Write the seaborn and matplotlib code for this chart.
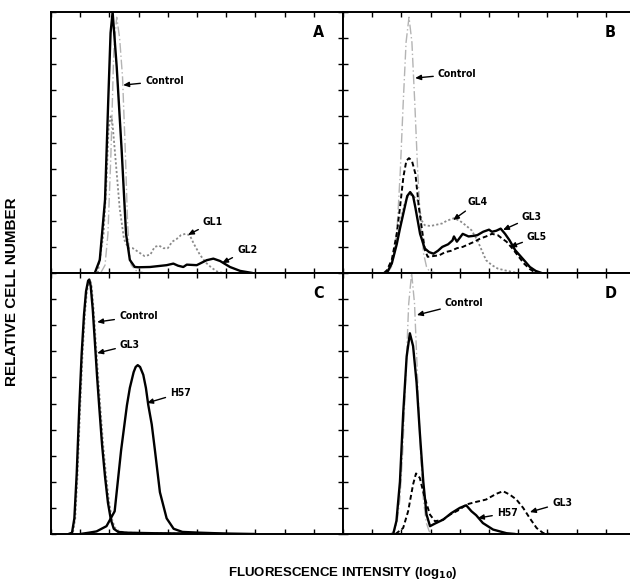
import matplotlib
matplotlib.use("Agg")
import matplotlib.pyplot as plt
import seaborn as sns
from matplotlib import font_manager

sns.set_theme(style="white")
fl = font_manager.fontManager.ttflist
names = {f.name for f in fl}
narrow = [f for f in fl if ("Narrow" in f.name or "Condensed" in f.name
                            or f.stretch in ("condensed", "semi-condensed", "extra-condensed"))]
if "Liberation Sans Narrow" in names:
    LBL = dict(family=["Liberation Sans Narrow", "DejaVu Sans"])
elif any(f.name == "DejaVu Sans" and f.stretch == "condensed" for f in fl):
    LBL = dict(family=["DejaVu Sans"], fontstretch="condensed")
elif narrow:
    LBL = dict(family=[narrow[0].name, "DejaVu Sans"], fontstretch=narrow[0].stretch)
else:
    LBL = dict(family=["Roboto", "DejaVu Sans"])
AX_FONT = "Liberation Sans" if "Liberation Sans" in names else "DejaVu Sans"
plt.rcParams['font.family'] = [AX_FONT, 'DejaVu Sans']
plt.rcParams['text.color'] = 'black'

# ---------------- data (x in log-decade tick units 0-10, y in tick units 0-10) ----------------
# Panel A
A_ctrl_x = [1.7, 1.85, 1.95, 2.05, 2.15, 2.25, 2.35, 2.45, 2.55, 2.62, 2.68, 2.75, 2.9, 3.2]
A_ctrl_y = [0, 0.3, 1.5, 4.5, 8.5, 9.8, 9.0, 7.5, 4.5, 2.0, 0.8, 0.3, 0.1, 0]
A_gl1_x = [1.6, 1.8, 1.9, 1.97, 2.04, 2.1, 2.2, 2.35, 2.5, 2.65, 2.8, 3.0, 3.2, 3.4, 3.55, 3.7, 3.85,
           4.0, 4.15, 4.3, 4.45, 4.6, 4.75, 4.9, 5.1, 5.3, 5.5, 5.7, 5.9]
A_gl1_y = [0, 1.5, 3.5, 5.5, 6.0, 5.8, 4.5, 2.5, 1.3, 0.95, 0.95, 0.8, 0.65, 0.7, 1.0, 1.05, 0.95,
           0.95, 1.2, 1.3, 1.45, 1.5, 1.45, 1.1, 0.7, 0.4, 0.2, 0.05, 0]
A_gl2_x = [1.5, 1.67, 1.85, 1.96, 2.04, 2.11, 2.25, 2.42, 2.57, 2.7, 2.87, 3.0, 3.39, 3.96, 4.19, 4.35,
           4.53, 4.65, 4.99, 5.33, 5.56, 5.79, 6.13, 6.48, 6.9]
A_gl2_y = [0, 0.5, 2.8, 6.6, 9.2, 10.0, 7.9, 4.7, 1.5, 0.5, 0.23, 0.22, 0.23, 0.3, 0.36, 0.28,
           0.23, 0.32, 0.3, 0.49, 0.55, 0.46, 0.23, 0.08, 0]

# Panel B
B_ctrl_x = [1.46, 1.56, 1.66, 1.76, 1.86, 1.96, 2.06, 2.16, 2.26, 2.36, 2.46, 2.56, 2.66, 2.76, 2.86, 2.96, 3.2]
B_ctrl_y = [0, 0.06, 0.24, 0.74, 1.87, 3.85, 6.47, 8.84, 9.8, 8.84, 6.47, 3.85, 1.87, 0.74, 0.24, 0.06, 0]
B_gl4_x = [1.5, 1.67, 1.84, 1.97, 2.1, 2.2, 2.3, 2.4, 2.55, 2.7, 2.8, 3.0, 3.2, 3.4, 3.55, 3.8, 4.0,
           4.2, 4.4, 4.6, 4.75, 4.9, 5.1, 5.3, 5.55, 5.8, 6.0]
B_gl4_y = [0, 0.4, 1.26, 2.0, 2.6, 2.9, 3.0, 2.95, 2.8, 2.0, 1.83, 1.8, 1.85, 1.9, 2.0, 2.1, 2.0,
           1.83, 1.64, 1.26, 0.87, 0.49, 0.3, 0.17, 0.1, 0.04, 0]
B_gl5_x = [1.4, 1.5, 1.67, 1.84, 1.95, 2.07, 2.17, 2.26, 2.36, 2.48, 2.6, 2.7, 2.8, 2.9, 3.1, 3.3, 3.5,
           3.7, 3.9, 4.1, 4.3, 4.5, 4.7, 4.9, 5.1, 5.3, 5.45, 5.6, 5.8, 6.0, 6.2, 6.4, 6.55, 6.7]
B_gl5_y = [0, 0.1, 0.5, 1.5, 2.5, 3.7, 4.3, 4.4, 4.3, 3.8, 2.5, 1.7, 0.9, 0.62, 0.65, 0.68, 0.8,
           0.85, 0.95, 1.0, 1.1, 1.2, 1.32, 1.4, 1.5, 1.45, 1.32, 1.2, 0.94, 0.65, 0.36, 0.15, 0.04, 0]
B_gl3_x = [1.5, 1.67, 1.84, 1.95, 2.07, 2.2, 2.3, 2.4, 2.48, 2.64, 2.8, 2.95, 3.1, 3.25, 3.4, 3.6, 3.75,
           3.8, 3.9, 4.1, 4.3, 4.45, 4.6, 4.8, 5.0, 5.1, 5.25, 5.4, 5.55, 5.7, 5.9, 6.2, 6.4, 6.6, 6.8]
B_gl3_y = [0, 0.36, 1.1, 1.7, 2.3, 2.95, 3.1, 2.95, 2.5, 1.5, 0.94, 0.8, 0.74, 0.85, 1.0, 1.1, 1.25,
           1.4, 1.2, 1.5, 1.4, 1.42, 1.45, 1.58, 1.66, 1.58, 1.62, 1.7, 1.5, 1.26, 0.87, 0.49, 0.23, 0.08, 0]

# Panel C
C_ctrl_x = [0.6, 0.72, 0.8, 0.88, 0.97, 1.05, 1.13, 1.2, 1.27, 1.31, 1.36, 1.43, 1.5, 1.58, 1.65,
            1.75, 1.85, 1.95, 2.05, 2.15, 2.3, 2.6, 3.5, 4.5, 6.0]
C_ctrl_y = [0, 0.05, 0.6, 2.3, 4.9, 6.9, 8.4, 9.3, 9.7, 9.75, 9.5, 8.6, 7.4, 6.0, 4.9,
            3.4, 2.2, 1.2, 0.55, 0.2, 0.08, 0.05, 0.03, 0.02, 0]
C_gl3_x = [0.63, 0.75, 0.83, 0.91, 1.0, 1.08, 1.16, 1.23, 1.3, 1.34, 1.39, 1.46, 1.53, 1.61, 1.68,
           1.78, 1.88, 1.98, 2.08, 2.18, 2.33, 2.63, 3.5, 4.5, 6.0]
C_gl3_y = [0, 0.05, 0.6, 2.3, 4.9, 6.9, 8.4, 9.3, 9.7, 9.75, 9.5, 8.6, 7.4, 6.1, 5.0,
           3.5, 2.3, 1.3, 0.6, 0.25, 0.1, 0.05, 0.03, 0.02, 0]
C_h57_x = [1.0, 1.3, 1.56, 1.9, 2.18, 2.4, 2.6, 2.7, 2.83, 2.9, 2.97, 3.05, 3.16, 3.25, 3.33, 3.45,
           3.56, 3.73, 3.96, 4.2, 4.5, 5.1, 5.9, 7.0]
C_h57_y = [0, 0.05, 0.1, 0.3, 0.87, 3.2, 4.93, 5.6, 6.2, 6.4, 6.47, 6.4, 6.1, 5.6, 4.95, 4.2,
           3.2, 1.6, 0.6, 0.2, 0.08, 0.05, 0.02, 0]

# Panel D
D_ctrl_x = [1.55, 1.65, 1.75, 1.85, 1.95, 2.05, 2.15, 2.25, 2.35, 2.45, 2.55, 2.65, 2.75, 2.85, 2.95, 3.05, 3.2]
D_ctrl_y = [0, 0.02, 0.11, 0.44, 1.35, 3.25, 6.07, 8.82, 10.0, 8.82, 6.07, 3.25, 1.35, 0.44, 0.11, 0.02, 0]
D_gl3_x = [1.8, 2.06, 2.23, 2.4, 2.5, 2.63, 2.8, 2.98, 3.15, 3.43, 3.66, 4.0, 4.22, 4.56, 4.9, 5.25,
           5.48, 5.71, 5.94, 6.17, 6.4, 6.63, 6.85, 7.1]
D_gl3_y = [0, 0.23, 0.87, 1.9, 2.32, 2.15, 1.38, 0.74, 0.49, 0.55, 0.74, 0.94, 1.13, 1.23, 1.32, 1.54,
           1.64, 1.51, 1.32, 1.0, 0.6, 0.23, 0.04, 0]
D_h57_x = [1.72, 1.83, 1.95, 2.06, 2.18, 2.29, 2.4, 2.52, 2.63, 2.75, 2.86, 2.98, 3.15, 3.43, 3.71,
           4.0, 4.22, 4.4, 4.56, 4.79, 5.14, 5.6, 5.9]
D_h57_y = [0, 0.5, 2.0, 4.6, 6.8, 7.69, 7.2, 5.8, 3.9, 2.0, 0.75, 0.3, 0.4, 0.55, 0.8,
           1.0, 1.1, 0.87, 0.72, 0.42, 0.17, 0.03, 0]

panel_letters = ["A", "B", "C", "D"]
x_label = "FLUORESCENCE INTENSITY (log$_\\mathbf{10}$)"
y_label = "RELATIVE CELL NUMBER"

# ---------------- styles ----------------
CTRL = dict(color="#b4b4b4", lw=1.0, linestyle=(0, (7, 2, 1, 2)))
DOT = dict(color="#8a8a8a", lw=1.3, linestyle=(0, (1.2, 1.2)))
SOLID = dict(color="black", lw=1.7, linestyle="-")
DASH = dict(color="black", lw=1.4, linestyle=(0, (2.5, 1.5)))

W, H = 630, 582
fig = plt.figure(figsize=(W / 100, H / 100), dpi=100)
fig.patch.set_facecolor("white")

x0, xm, x1 = 51, 343, 635
y0, ym, y1 = 12, 273, 534


def add_ax(l, t, r, b):
    return fig.add_axes([l / W, (H - b) / H, (r - l) / W, (b - t) / H])


axA = add_ax(x0, y0, xm, ym)
axB = add_ax(xm, y0, x1, ym)
axC = add_ax(x0, ym, xm, y1)
axD = add_ax(xm, ym, x1, y1)


def line(ax, x, y, st):
    sns.lineplot(x=x, y=y, ax=ax, estimator=None, sort=False, **st)


line(axA, A_ctrl_x, A_ctrl_y, CTRL)
line(axA, A_gl1_x, A_gl1_y, DOT)
line(axA, A_gl2_x, A_gl2_y, SOLID)

line(axB, B_ctrl_x, B_ctrl_y, CTRL)
line(axB, B_gl4_x, B_gl4_y, DOT)
line(axB, B_gl5_x, B_gl5_y, DASH)
line(axB, B_gl3_x, B_gl3_y, SOLID)

line(axC, C_gl3_x, C_gl3_y, DOT)
line(axC, C_ctrl_x, C_ctrl_y, SOLID)
line(axC, C_h57_x, C_h57_y, SOLID)

line(axD, D_ctrl_x, D_ctrl_y, CTRL)
line(axD, D_gl3_x, D_gl3_y, DASH)
line(axD, D_h57_x, D_h57_y, SOLID)

for ax, letter in zip([axA, axB, axC, axD], panel_letters):
    ax.set_xlim(0, 10)
    ax.set_ylim(0, 10)
    ax.set_facecolor("white")
    ax.set_xticks(range(0, 11))
    ax.set_yticks(range(0, 11))
    ax.set_xticklabels([])
    ax.set_yticklabels([])
    ax.set_xlabel("")
    ax.set_ylabel("")
    ax.tick_params(direction="in", length=3.5, width=1.0, color="black",
                   top=True, right=True, bottom=True, left=True)
    for s in ax.spines.values():
        s.set_visible(True)
        s.set_color("black")
        s.set_linewidth(1.4)
    if ax.get_legend():
        ax.get_legend().remove()
    ax.text(0.915, 0.92, letter, transform=ax.transAxes, ha="center", va="center",
            fontsize=11.5, fontweight="bold", **LBL)

ANN = dict(fontsize=7.5, fontweight="bold", ha="left", va="center", **LBL)
ARW = dict(arrowstyle="-|>,head_length=0.45,head_width=0.2", color="black", lw=1.0,
           shrinkA=1, shrinkB=0)


def note(ax, text, tip, pos):
    ax.annotate(text, xy=tip, xytext=pos, arrowprops=ARW, **ANN)


note(axA, "Control", (2.47, 7.2), (3.22, 7.36))
note(axA, "GL1", (4.69, 1.46), (5.2, 1.95))
note(axA, "GL2", (5.86, 0.38), (6.37, 0.88))

note(axB, "Control", (2.47, 7.47), (3.25, 7.62))
note(axB, "GL4", (3.77, 2.03), (4.28, 2.72))
note(axB, "GL3", (5.48, 1.65), (6.13, 2.15))
note(axB, "GL5", (5.72, 1.0), (6.3, 1.38))

note(axC, "Control", (1.58, 8.12), (2.33, 8.35))
note(axC, "GL3", (1.58, 6.93), (2.36, 7.24))
note(axC, "H57", (3.29, 5.02), (4.08, 5.4))

note(axD, "Control", (2.53, 8.39), (3.49, 8.85))
note(axD, "H57", (4.62, 0.61), (5.27, 0.8))
note(axD, "GL3", (6.4, 0.84), (7.16, 1.19))

fig.text(12 / W, 1 - 292 / H, y_label, rotation=90, ha="center", va="center",
         fontsize=11, fontweight="bold", color="black")
fig.text(343 / W, 1 - 573 / H, x_label, ha="center", va="center",
         fontsize=9.5, fontweight="bold", color="black")

fig.savefig("out.png", dpi=100, facecolor="white")
